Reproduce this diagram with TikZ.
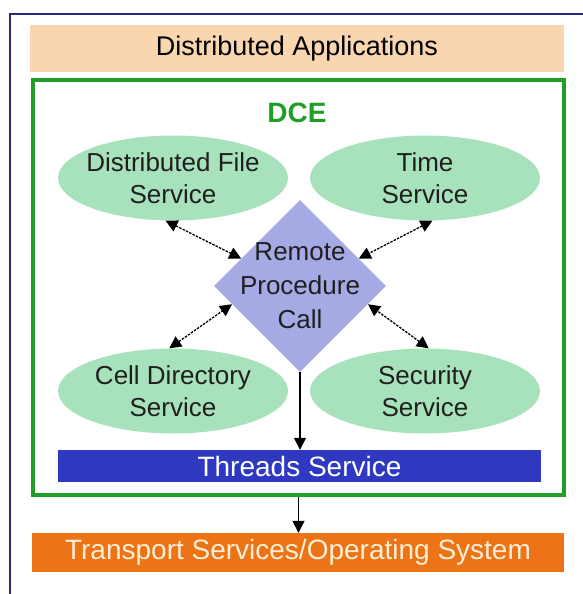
\documentclass[tikz,border=0pt]{standalone}
\usepackage{fontspec}
\setmainfont{Liberation Sans}
\usepackage{xcolor}
\usetikzlibrary{shapes.geometric, arrows.meta, positioning}

\definecolor{peach}{RGB}{249,214,176}
\definecolor{dcegreen}{RGB}{32,158,40}
\definecolor{svcgreen}{RGB}{168,226,188}
\definecolor{rpcblue}{RGB}{166,170,228}
\definecolor{thrblue}{RGB}{46,56,192}
\definecolor{osorange}{RGB}{236,116,22}
\definecolor{oscream}{RGB}{255,238,214}
\definecolor{framenavy}{RGB}{40,40,128}

\tikzset{
  layer/.style   = {rectangle, inner sep=0pt, text centered,
                    font=\fontsize{27}{32}\selectfont},
  dcebox/.style  = {rectangle, draw=dcegreen, line width=3.5pt,
                    minimum width=531pt, minimum height=415pt},
  service/.style = {ellipse, fill=svcgreen, inner sep=-12pt,
                    minimum width=230pt, minimum height=85pt,
                    align=center, text=black!88,
                    font=\fontsize{26}{32}\selectfont},
  rpcnode/.style = {diamond, fill=rpcblue, inner sep=-18pt,
                    minimum width=172pt, minimum height=172pt,
                    align=center, text=black!88,
                    font=\fontsize{26}{34}\selectfont},
  link/.style    = {{Triangle[length=12pt,width=12pt]}-{Triangle[length=12pt,width=12pt]},
                    line width=1.3pt, dash pattern=on 2.5pt off 1.2pt},
  arr/.style     = {-{Triangle[length=12pt,width=12pt]}, line width=1.6pt},
}

\begin{document}
\begin{tikzpicture}[x=1pt, y=-1pt]
\useasboundingbox (0,0) rectangle (582,594);

% ── Outer frame ──────────────────────────────────────────
\draw[framenavy, line width=2pt] (10,14) rectangle (610,620);

% ── Layers ───────────────────────────────────────────────
\node[layer, fill=peach, minimum width=534pt, minimum height=47pt]
      (apps) at (297,48.5) {Distributed Applications};

\node[dcebox] (dce) at (298.5,287.5) {};
\node[font=\fontsize{28}{32}\selectfont\bfseries, text=dcegreen]
      (dcelabel) at (297,113) {DCE};

% ── Services ─────────────────────────────────────────────
\node[service] (dfs)  at (173,178) {Distributed File\\Service};
\node[service] (time) at (425,178) {Time\\Service};
\node[service] (cds)  at (173,391) {Cell Directory\\Service};
\node[service] (sec)  at (425,391) {Security\\Service};

\node[rpcnode] (rpc) at (300,286) {Remote\\Procedure\\Call};

\node[layer, fill=thrblue, text=white, minimum width=483pt, minimum height=32pt,
      font=\fontsize{28}{32}\selectfont]
      (threads) at (299.5,466) {Threads Service};

\node[layer, fill=osorange, text=oscream, minimum width=532pt, minimum height=39pt,
      font=\fontsize{28}{32}\selectfont]
      (os) at (298,552.5) {Transport Services/Operating System};

% ── Arrows: services <-> RPC ─────────────────────────────
\draw[link] (dfs.-100) -- (rpc.155);
\draw[link] (time.-80) -- (rpc.25);
\draw[link] (cds.95)   -- (rpc.195);
\draw[link] (sec.85)   -- (rpc.-15);

% ── Arrows: down the stack ───────────────────────────────
\draw[arr] (rpc.south) -- (rpc.south |- threads.north);
\draw[arr] (dce.south) -- (dce.south |- os.north);

\end{tikzpicture}
\end{document}
